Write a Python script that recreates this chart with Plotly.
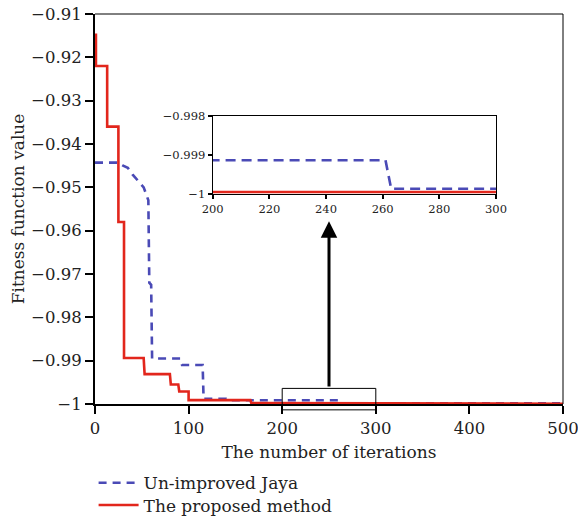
import plotly.graph_objects as go

# Data
prop_x = [0, 1, 1, 13, 13, 25, 25, 31, 31, 52, 53, 80, 81, 89, 90, 100, 100, 166, 167, 196, 198, 500]
prop_y = [-0.9148, -0.9148, -0.922, -0.922, -0.936, -0.936, -0.958, -0.958, -0.9894, -0.9894, -0.9931,
          -0.9931, -0.9955, -0.9955, -0.9971, -0.9971, -0.9991, -0.9991, -0.9998, -0.9998, -0.99994, -0.99994]

jaya_x = [0, 25, 30, 35, 40, 48, 52, 57, 58, 60, 61, 91, 93, 115, 116, 140, 142, 261, 263, 500]
jaya_y = [-0.9443, -0.9443, -0.945, -0.9455, -0.947, -0.949, -0.950, -0.953, -0.972, -0.9725, -0.9895,
          -0.9895, -0.991, -0.991, -0.9988, -0.9988, -0.99913, -0.99913, -0.99986, -0.99986]

series_names = ["Un-improved Jaya", "The proposed method"]
main_xticks = [0, 100, 200, 300, 400, 500]
inset_xticks = [200, 220, 240, 260, 280, 300]
inset_yticks = [-1, -0.999, -0.998]

RED = "#e2261c"
BLUE = "#4a4ab6"
FONT = "DejaVu Serif"

fig = go.Figure()

fig.add_trace(go.Scatter(x=jaya_x, y=jaya_y, mode="lines", name=series_names[0], legend="legend",
                         line=dict(color=BLUE, width=2.6, dash="8px,6px"), cliponaxis=False))
fig.add_trace(go.Scatter(x=prop_x, y=prop_y, mode="lines", name=series_names[1], legend="legend2",
                         line=dict(color=RED, width=2.6), cliponaxis=False))

# inset traces
fig.add_trace(go.Scatter(x=jaya_x, y=jaya_y, mode="lines", showlegend=False,
                         line=dict(color=BLUE, width=2.6, dash="10px,6px"), xaxis="x2", yaxis="y2"))
fig.add_trace(go.Scatter(x=prop_x, y=prop_y, mode="lines", showlegend=False,
                         line=dict(color=RED, width=2.6), xaxis="x2", yaxis="y2"))

axis_common = dict(showgrid=False, zeroline=False, ticks="outside", tickcolor="black",
                   linecolor="black", showline=True, automargin=False, ticklabeloverflow="allow")

legend_common = dict(xanchor="left", yanchor="middle", bgcolor="rgba(0,0,0,0)",
                     font=dict(size=17), itemwidth=40)

fig.update_layout(
    width=578, height=523, autosize=False,
    margin=dict(l=95, r=15, t=14, b=119, autoexpand=False),
    paper_bgcolor="white", plot_bgcolor="white",
    font=dict(family=FONT, size=16.5, color="#222"),
    xaxis=dict(range=[0, 500], tickvals=main_xticks, ticklen=8, tickwidth=2, linewidth=2,
               title=dict(text="The number of iterations", standoff=9, font=dict(size=17)),
               **axis_common),
    yaxis=dict(range=[-1, -0.91], dtick=0.01, tick0=-1, ticklen=8, tickwidth=2, linewidth=2,
               title=dict(text="Fitness function value", standoff=2, font=dict(size=17)),
               **axis_common),
    xaxis2=dict(domain=[0.2515, 0.8568], anchor="y2", range=[200, 300], tickvals=inset_xticks,
                ticklen=4, tickwidth=1.5, linewidth=1.2, mirror=True, tickfont=dict(size=11.5),
                **axis_common),
    yaxis2=dict(domain=[0.5377, 0.7385], anchor="x2", range=[-1, -0.998], tickvals=inset_yticks,
                ticktext=["\u22121", "\u22120.999", "\u22120.998"],
                ticklen=4, tickwidth=1.5, linewidth=1.2, mirror=True, tickfont=dict(size=11.5),
                **axis_common),
    legend=dict(x=-0.003, y=-0.203, **legend_common),
    legend2=dict(x=-0.003, y=-0.26, **legend_common),
    showlegend=True,
)

# top and right frame lines of main plot
fig.add_shape(type="line", xref="paper", yref="paper", x0=0, x1=1, y0=1, y1=1,
              line=dict(color="black", width=1))
fig.add_shape(type="line", xref="paper", yref="paper", x0=1, x1=1, y0=0, y1=1,
              line=dict(color="black", width=1))

# zoom rectangle around region 200-300
fig.add_shape(type="rect", xref="x", yref="y domain", x0=200, x1=300, y0=-0.015, y1=0.04,
              line=dict(color="black", width=1), fillcolor="rgba(0,0,0,0)")

# arrow from rectangle to inset
fig.add_annotation(x=250, y=-0.9578, ax=250, ay=-0.9963, xref="x", yref="y", axref="x", ayref="y",
                   text="", showarrow=True, arrowhead=2, arrowsize=1.1, arrowwidth=3, arrowcolor="black")

fig.write_html("out.html")
